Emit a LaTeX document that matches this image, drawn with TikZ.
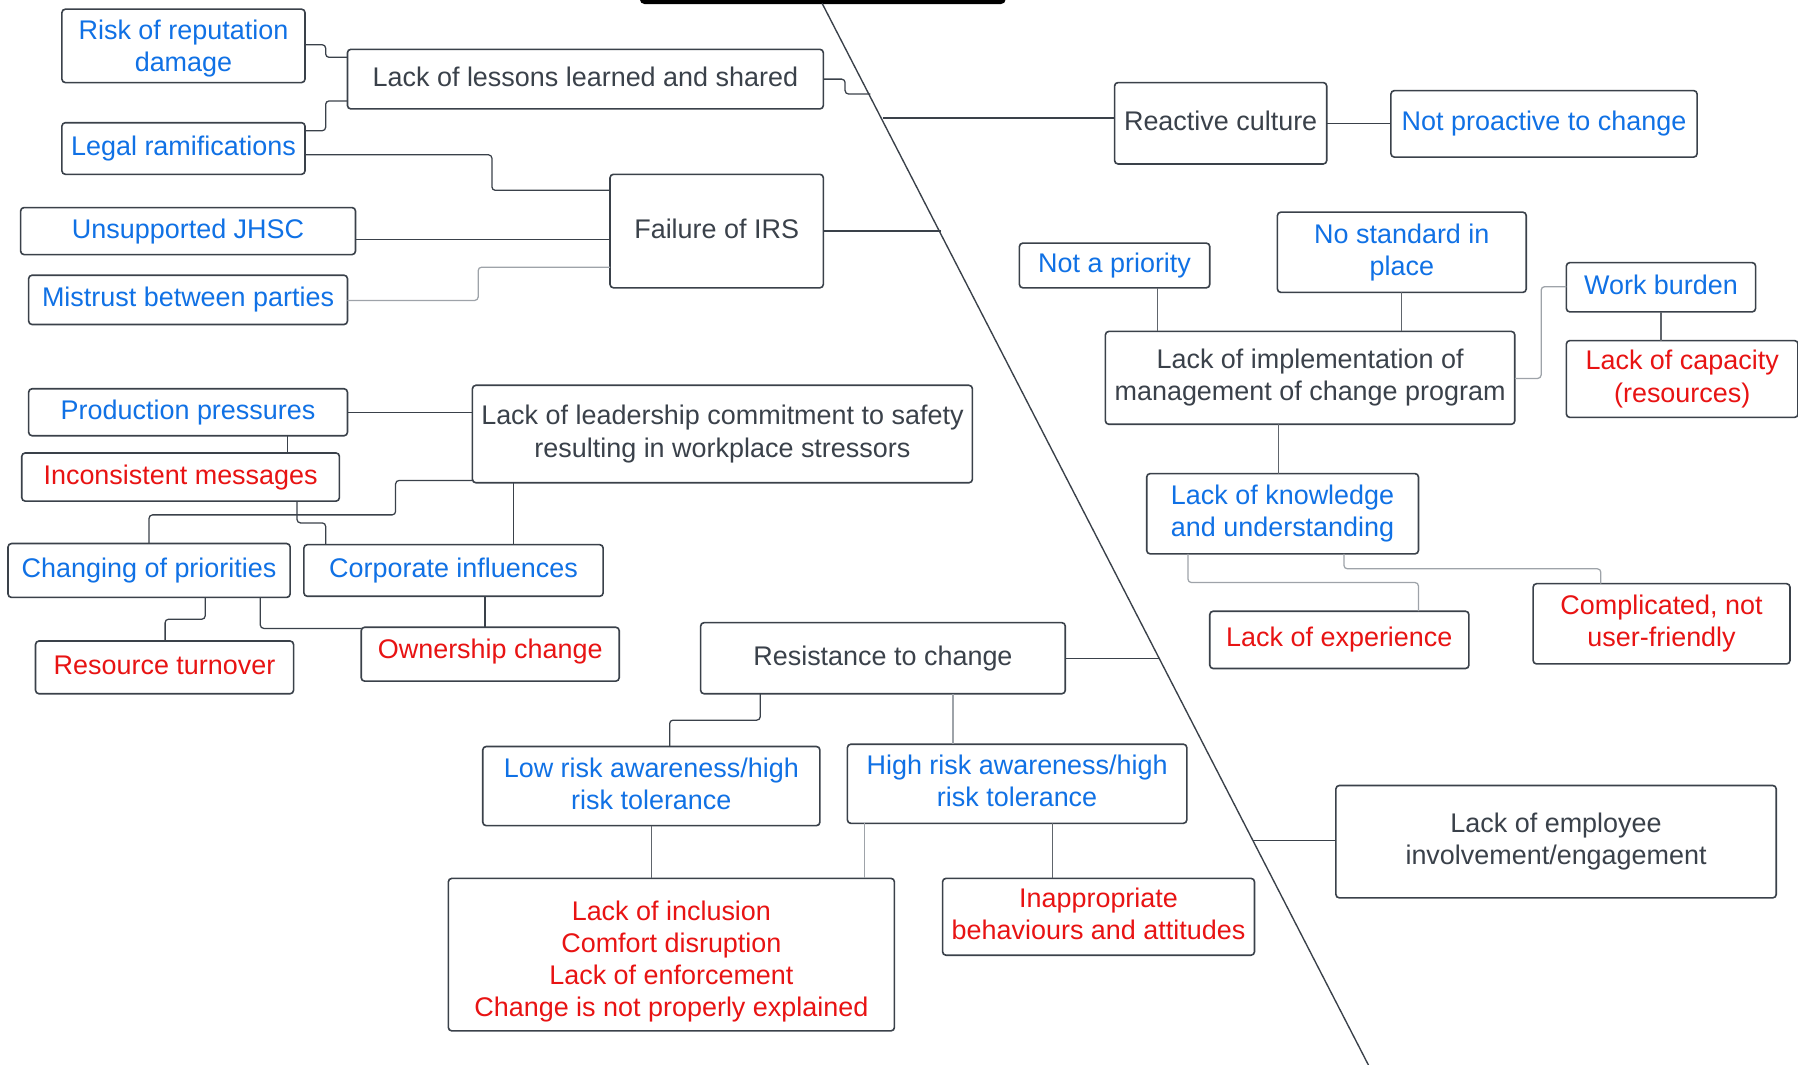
\documentclass[tikz,border=0pt]{standalone}
\usepackage{fontspec}
\setmainfont{Liberation Sans}
\definecolor{ink}{HTML}{3A414A}
\definecolor{midline}{HTML}{60656C}
\definecolor{bluetxt}{HTML}{1071E5}
\definecolor{redtxt}{HTML}{E81313}
\definecolor{lightline}{HTML}{9EA3A9}
\tikzset{
  x=0.5pt, y=-0.5pt,
  box/.style={draw=ink, line width=0.7pt, rounded corners=1.5pt, fill=white,
    inner sep=0pt, outer sep=0pt, align=center,
    font=\fontsize{11.75}{14}\selectfont},
  mainbox/.style={box, text=ink},
  bluebox/.style={box, text=bluetxt},
  redbox/.style={box, text=redtxt},
  conn/.style={draw=ink, line width=0.55pt, rounded corners=1.5pt},
  mconn/.style={draw=midline, line width=0.45pt, rounded corners=1.5pt},
  lconn/.style={draw=lightline, line width=0.55pt, rounded corners=1.5pt},
  spine/.style={draw=ink, line width=0.6pt},
}
% fixed ascent of the first line and descent of the last line of every label
\newcommand\firstasc[1][8.6pt]{\rule{0pt}{#1}}
\newcommand\lastdesc[1][2.5pt]{\rule[-#1]{0pt}{#1}}
% box given by its corners (x1,y1) and (x2,y2)
\newcommand\bx[7]{\node[#6, minimum width={(#4-#2)*0.5pt}, minimum height={(#5-#3)*0.5pt}]
  (#1) at ({(#2+#4)/2},{(#3+#5)/2}) {\firstasc#7\lastdesc};}
\begin{document}
\begin{tikzpicture}
\useasboundingbox (0,0) rectangle (1568,928);
\begin{scope}
\clip (0,0) rectangle (1568,928);
% title bar and fish-bone spine
\fill[black, rounded corners=2pt] (558,-20) rectangle (877,3.5);
\coordinate (spinetop) at (717,3);
\coordinate (spinebot) at (1194,930);
\draw[spine] (spinetop) -- (spinebot);
\end{scope}
\coordinate (sp1) at (759.1,82);
\coordinate (sp2) at (769.8,103);
\coordinate (sp3) at (820.4,201.5);
\coordinate (sp4) at (1011.4,574);
\coordinate (sp5) at (1093,733);

% ---- upper left branch
\bx{risk}{54}{8}{266}{72}{bluebox}{\firstasc[10.6pt]Risk of reputation\\damage}
\bx{lessons}{303}{43}{718}{95}{mainbox}{Lack of lessons learned and shared}
\bx{legal}{54}{107}{266}{152}{bluebox}{Legal ramifications}
\bx{failure}{532}{152}{718}{251}{mainbox}{Failure of IRS}
\bx{jhsc}{18}{181}{310}{222}{bluebox}{Unsupported JHSC}
\bx{mistrust}{25}{240}{303}{283}{bluebox}{Mistrust between parties}

% ---- upper right branch
\bx{reactive}{972}{72}{1157}{143}{mainbox}{Reactive culture}
\bx{notpro}{1213}{79}{1480}{137}{bluebox}{Not proactive to change}
\bx{notprio}{889}{212}{1055}{251}{bluebox}{Not a priority}
\bx{nostd}{1114}{185}{1331}{255}{bluebox}{No standard in\\place}
\bx{work}{1366}{229}{1531}{272}{bluebox}{Work burden}
\bx{impl}{964}{289}{1321}{370}{mainbox}{Lack of implementation of\\management of change program}
\bx{capacity}{1366}{297}{1568}{364}{redbox}{Lack of capacity\\(resources)}
\bx{knowledge}{1000}{413}{1237}{483}{bluebox}{Lack of knowledge\\and understanding}
\bx{experience}{1055}{533}{1281}{583}{redbox}{Lack of experience}
\bx{complicated}{1337}{509}{1561}{579}{redbox}{Complicated, not\\user-friendly}

% ---- middle left branch
\bx{production}{25}{339}{303}{380}{bluebox}{Production pressures}
\bx{leadership}{412}{336}{848}{421}{mainbox}{Lack of leadership commitment to safety\\resulting in workplace stressors}
\bx{inconsistent}{19}{395}{296}{437}{redbox}{Inconsistent messages}
\bx{changing}{7}{474}{253}{521}{bluebox}{Changing of priorities}
\bx{corporate}{265}{475}{526}{520}{bluebox}{Corporate influences}
\bx{turnover}{31}{559}{256}{605}{redbox}{Resource turnover}
\bx{ownership}{315}{547}{540}{594}{redbox}{Ownership change\lastdesc[4.5pt]}

% ---- lower branch
\bx{resist}{611}{543}{929}{605}{mainbox}{Resistance to change}
\bx{lowrisk}{421}{651}{715}{720}{bluebox}{Low risk awareness/high\\risk tolerance}
\bx{highrisk}{739}{649}{1035}{718}{bluebox}{High risk awareness/high\\risk tolerance}
\bx{inclusion}{391}{766}{780}{899}{redbox}{\firstasc[14.6pt]Lack of inclusion\\Comfort disruption\\Lack of enforcement\\Change is not properly explained}
\bx{behaviour}{822}{766}{1094}{833}{redbox}{Inappropriate\\behaviours and attitudes}
\bx{employee}{1165}{685}{1549}{783}{mainbox}{Lack of employee\\involvement/engagement}

% ---- connectors, upper left
\draw[conn] (risk.east |- 0,39) -| (284,50) -- (lessons.west |- 0,50);
\draw[conn] (legal.east |- 0,114) -| (284,88) -- (lessons.west |- 0,88);
\draw[conn] (legal.east |- 0,135) -| (429,166) -- (failure.west |- 0,166);
\draw[conn] (jhsc.east |- 0,209) -- (failure.west |- 0,209);
\draw[lconn] (mistrust.east |- 0,262) -| (417,233) -- (failure.west |- 0,233);
\draw[conn] (failure.east |- sp3) -- (sp3);
\draw[conn] (lessons.east) -| (737,82) -- (sp1);

% ---- connectors, upper right
\draw[conn] (sp2) -- (reactive.west |- sp2);
\draw[conn] (reactive.east |- 0,108) -- (notpro.west |- 0,108);
\draw[mconn] (notprio.south -| 1009,0) -- (impl.north -| 1009,0);
\draw[mconn] (nostd.south) -- (nostd.south |- impl.north);
\draw[lconn] (impl.east |- 0,330) -| (1344,250) -- (work.west |- 0,250);
\draw[mconn] (work.south) -- (work.south |- capacity.north);
\draw[mconn] (impl.south -| 1115,0) -- (knowledge.north -| 1115,0);
\draw[lconn] (knowledge.south -| 1036,0) |- (1237,508) -- (experience.north -| 1237,0);
\draw[lconn] (knowledge.south -| 1172,0) |- (1396,496) -- (complicated.north -| 1396,0);

% ---- connectors, middle left
\draw[conn] (production.east |- 0,360) -- (leadership.west |- 0,360);
\draw[conn] (production.south -| 251,0) -- (inconsistent.north -| 251,0);
\draw[conn] (leadership.west |- 0,419) -| (345,449) -| (changing.north -| 130,0);
\draw[conn] (inconsistent.south -| 259,0) |- (284,456) -- (corporate.north -| 284,0);
\draw[conn] (leadership.south -| 448,0) -- (corporate.north -| 448,0);
\draw[conn] (changing.south -| 179,0) |- (144,540) -- (turnover.north -| 144,0);
\draw[conn] (changing.south -| 227,0) |- (ownership.west |- 0,548);
\draw[conn] (corporate.south -| 423,0) -- (ownership.north -| 423,0);

% ---- connectors, lower
\draw[conn] (resist.east |- sp4) -- (sp4);
\draw[conn] (sp5) -- (employee.west |- sp5);
\draw[conn] (resist.south -| 663,0) |- (584,628) -- (lowrisk.north -| 584,0);
\draw[lconn] (resist.south -| 831,0) -- (highrisk.north -| 831,0);
\draw[mconn] (lowrisk.south -| 568,0) -- (inclusion.north -| 568,0);
\draw[lconn] (highrisk.south -| 754,0) -- (inclusion.north -| 754,0);
\draw[mconn] (highrisk.south -| 918,0) -- (behaviour.north -| 918,0);
\end{tikzpicture}
\end{document}
